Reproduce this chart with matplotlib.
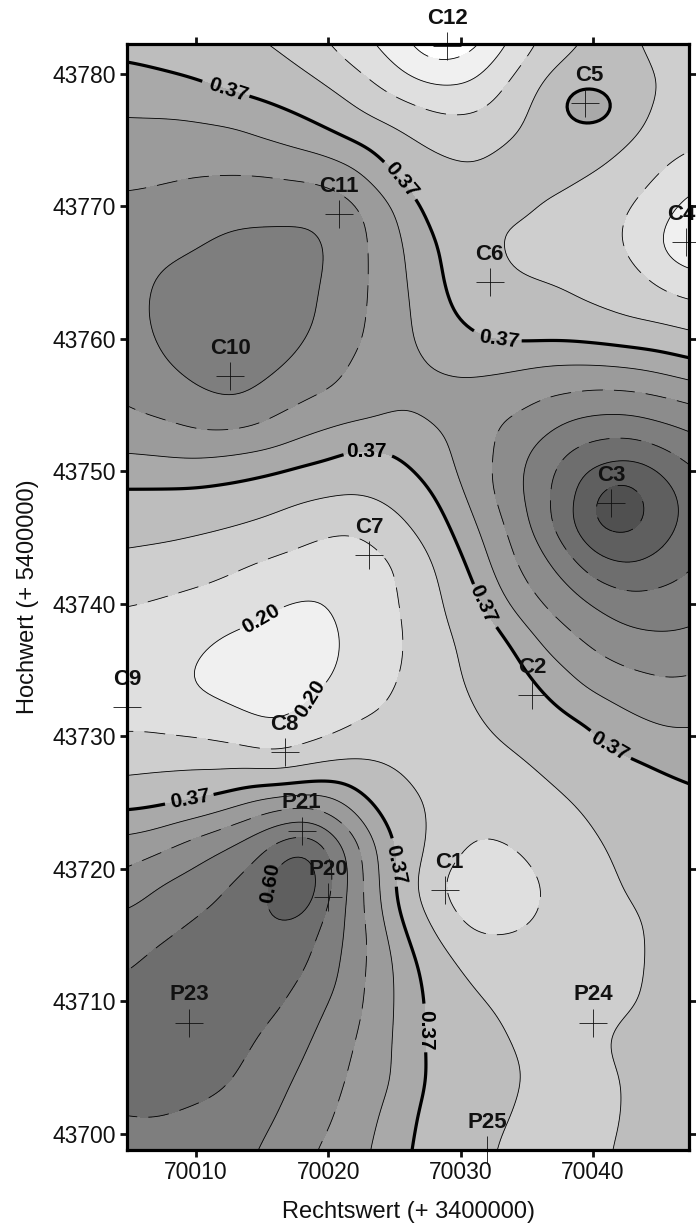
import numpy as np
import matplotlib
matplotlib.use("Agg")
import matplotlib.pyplot as plt
import matplotlib.tri as tri

plt.rcParams['font.family'] = ['Liberation Sans', 'DejaVu Sans']
plt.rcParams['lines.scale_dashes'] = False

# sampled surface, thousandths, rows from north to south
x_nodes = [70004, 70007, 70010, 70013, 70016, 70019, 70022, 70025,
           70028, 70031, 70034, 70037, 70040, 70043, 70046, 70049]
y_nodes = [43785, 43782, 43779, 43776, 43773, 43770, 43767, 43764, 43761, 43758,
           43755, 43752, 43749, 43746, 43743, 43740, 43737, 43734, 43731, 43728,
           43725, 43722, 43719, 43716, 43713, 43710, 43707, 43704, 43701, 43698]
z_rows = [
    [342, 336, 324, 307, 284, 250, 199, 142, 60, 75, 182, 273, 319, 313, 290, 279],
    [359, 350, 342, 327, 313, 273, 228, 173, 100, 125, 222, 290, 327, 319, 296, 284],
    [393, 388, 377, 361, 347, 328, 287, 239, 205, 211, 273, 339, 347, 330, 307, 290],
    [425, 425, 424, 418, 398, 375, 342, 316, 285, 276, 310, 336, 350, 324, 290, 273],
    [447, 452, 456, 455, 450, 441, 418, 357, 327, 316, 330, 342, 324, 293, 250, 228],
    [471, 473, 483, 492, 495, 498, 474, 418, 347, 330, 333, 307, 279, 256, 200, 160],
    [480, 497, 506, 522, 522, 522, 479, 432, 370, 342, 296, 279, 279, 248, 160, 140],
    [485, 514, 526, 536, 533, 514, 476, 437, 375, 347, 322, 316, 299, 276, 240, 225],
    [480, 517, 531, 540, 538, 510, 471, 437, 388, 359, 342, 339, 330, 316, 310, 290],
    [469, 502, 522, 536, 518, 485, 457, 437, 416, 405, 411, 421, 421, 414, 395, 375],
    [460, 474, 497, 508, 476, 455, 444, 421, 432, 439, 453, 476, 491, 490, 476, 455],
    [428, 434, 441, 434, 423, 398, 370, 377, 404, 437, 487, 531, 563, 570, 540, 513],
    [372, 372, 372, 364, 350, 336, 327, 342, 377, 437, 497, 559, 632, 660, 605, 554],
    [336, 333, 327, 316, 299, 273, 259, 296, 347, 411, 478, 563, 655, 665, 614, 554],
    [302, 293, 279, 262, 245, 230, 233, 250, 310, 386, 462, 508, 586, 605, 572, 545],
    [259, 250, 242, 230, 200, 190, 222, 248, 302, 353, 430, 476, 508, 538, 538, 517],
    [233, 230, 205, 180, 173, 168, 216, 245, 290, 330, 370, 434, 469, 491, 497, 485],
    [228, 225, 190, 175, 171, 188, 222, 253, 290, 322, 344, 384, 430, 448, 459, 448],
    [245, 242, 233, 216, 190, 222, 253, 273, 293, 307, 330, 350, 370, 407, 425, 416],
    [290, 299, 302, 296, 276, 304, 322, 313, 290, 290, 304, 327, 350, 364, 382, 393],
    [353, 359, 375, 407, 441, 450, 402, 336, 304, 279, 285, 302, 322, 333, 350, 361],
    [430, 444, 478, 510, 563, 592, 480, 364, 299, 250, 262, 287, 310, 324, 342, 350],
    [471, 506, 529, 559, 600, 612, 490, 370, 256, 216, 219, 270, 299, 319, 339, 350],
    [517, 536, 559, 577, 603, 568, 490, 388, 302, 230, 239, 273, 296, 304, 330, 344],
    [543, 566, 575, 577, 577, 554, 480, 416, 336, 296, 285, 279, 290, 302, 333, 344],
    [568, 579, 582, 575, 566, 524, 476, 416, 353, 319, 299, 287, 296, 307, 333, 344],
    [563, 577, 572, 568, 543, 503, 464, 414, 353, 336, 310, 296, 304, 335, 342, 350],
    [565, 572, 570, 555, 522, 487, 455, 416, 356, 336, 319, 296, 290, 322, 342, 350],
    [552, 554, 543, 533, 508, 476, 444, 395, 348, 336, 310, 287, 290, 324, 344, 353],
    [531, 533, 524, 517, 494, 457, 432, 385, 344, 330, 296, 279, 296, 336, 347, 353],
]

# stations
names = ['C12', 'C5', 'C4', 'C6', 'C11', 'C10', 'C3', 'C7', 'C2', 'C9', 'C8',
         'P21', 'C1', 'P20', 'P23', 'P24', 'P25']
st_x = [70029.0, 70039.4, 70047.0, 70032.2, 70020.8, 70012.6, 70041.4, 70023.1, 70035.4,
        70004.8, 70016.7, 70018.0, 70028.8, 70020.0, 70009.5, 70040.0, 70032.0]
st_y = [43782.1, 43777.8, 43767.3, 43764.3, 43769.4, 43757.2, 43747.6, 43743.7, 43733.1,
        43732.2, 43728.8, 43722.9, 43718.4, 43717.9, 43708.4, 43708.4, 43698.8]
name_dx = [0, 3, -3, 0, 0, 0, 0, 0, 0, 0, 0, 0, 3, 0, 0, 0, 0]

# station readings that the coarse rows miss
peak_x = [70039.4, 70041.7, 70017.5]
peak_y = [43777.8, 43747.3, 43718.5]
peak_z = [472, 720, 700]

levels = [143, 200, 257, 313, 370, 416, 462, 508, 554, 600, 646]
dashed_levels = [143, 257, 462, 554, 646]
solid_levels = [313, 416, 508]
greys = ['#ffffff', '#f0f0f0', '#dfdfdf', '#cecece', '#bdbdbd', '#a9a9a9',
         '#9b9b9b', '#8c8c8c', '#7e7e7e', '#6e6e6e', '#5f5f5f', '#505050']

label_37 = [(70012.4, 43778.6), (70025.5, 43772.0), (70032.9, 43759.8), (70022.9, 43751.5),
            (70031.7, 43740.0), (70042.4, 43730.8), (70009.6, 43725.0), (70024.5, 43720.3),
            (70026.9, 43707.8)]
rot_37 = [-18, -50, -8, 0, -65, -30, 10, -78, -90]
label_20 = [(70015.0, 43738.8), (70018.8, 43732.7)]
rot_20 = [30, 58]
label_60 = [(70016.0, 43718.8)]
rot_60 = [80]

xg, yg = np.meshgrid(x_nodes, y_nodes)
xs = np.concatenate([xg.ravel(), peak_x])
ys = np.concatenate([yg.ravel(), peak_y])
zs = np.concatenate([np.array(z_rows, dtype=float).ravel(), peak_z])

# smooth surface on a fine mesh
t = tri.Triangulation(xs - 70000.0, ys - 43700.0)
interp = tri.LinearTriInterpolator(t, zs)
fx = np.arange(4.0, 49.01, 0.25)
fy = np.arange(-2.0, 85.01, 0.25)
FX, FY = np.meshgrid(fx, fy)
FZ = np.ma.filled(interp(FX, FY), np.nan)
FZ = np.where(np.isnan(FZ), np.nanmean(FZ), FZ)

sigma = 1.2 / 0.25
r = int(3 * sigma)
kern = np.exp(-0.5 * (np.arange(-r, r + 1) / sigma) ** 2)
kern = kern / kern.sum()
FZ = np.apply_along_axis(lambda v: np.convolve(np.pad(v, r, mode='edge'), kern, mode='valid'), 0, FZ)
FZ = np.apply_along_axis(lambda v: np.convolve(np.pad(v, r, mode='edge'), kern, mode='valid'), 1, FZ)
FX = FX + 70000.0
FY = FY + 43700.0

fig = plt.figure(figsize=(6.96, 12.24), dpi=100)
ax = fig.add_axes([127 / 696, 1 - 1150 / 1224, 562 / 696, 1106 / 1224])

ax.contourf(FX, FY, FZ, levels=[-500] + levels + [1000], colors=greys)

dash = (0, (15, 8))
ax.contour(FX, FY, FZ, levels=dashed_levels, colors='black', linewidths=0.6, linestyles=[dash])
ax.contour(FX, FY, FZ, levels=solid_levels, colors='black', linewidths=0.6, linestyles='solid')

for lev, pos, rot, txt, lw in [(370, label_37, rot_37, '0.37', 2.3), (200, label_20, rot_20, '0.20', 0.6),
                               (600, label_60, rot_60, '0.60', 0.6)]:
    cs = ax.contour(FX, FY, FZ, levels=[lev], colors='black', linewidths=lw, linestyles='solid')
    labs = ax.clabel(cs, manual=pos, fmt={lev: txt}, fontsize=15, inline=True, inline_spacing=3)
    for lab, a in zip(labs, rot):
        lab.set_fontweight('bold')
        lab.set_color('black')
        lab.set_rotation(a)

ax.plot(st_x, st_y, ls='none', marker='+', ms=20, mew=0.6, color='#111111', clip_on=False, zorder=5)
for n, a, b, d in zip(names, st_x, st_y, name_dx):
    ax.annotate(n, (a, b), xytext=(d, 20), textcoords='offset points', ha='center', va='center',
                fontsize=16, fontweight='bold', color='#111111', annotation_clip=False, zorder=6)

ax.set_xlim(70004.79, 70047.26)
ax.set_ylim(43698.79, 43782.26)
ax.set_xticks([70010, 70020, 70030, 70040])
ax.set_yticks([43700, 43710, 43720, 43730, 43740, 43750, 43760, 43770, 43780])
ax.xaxis.set_major_formatter(lambda v, p: '%d' % v)
ax.yaxis.set_major_formatter(lambda v, p: '%d' % v)
ax.tick_params(top=True, right=True, length=5, width=2, labelsize=16.5, pad=3, colors='#111111')
for s in ax.spines.values():
    s.set_linewidth(2.3)
    s.set_zorder(7)
ax.set_xlabel('Rechtswert (+ 3400000)', fontsize=17, labelpad=12, color='#111111')
ax.set_ylabel('Hochwert (+ 5400000)', fontsize=17, labelpad=10, color='#111111')

fig.savefig('out.png', dpi=100)
